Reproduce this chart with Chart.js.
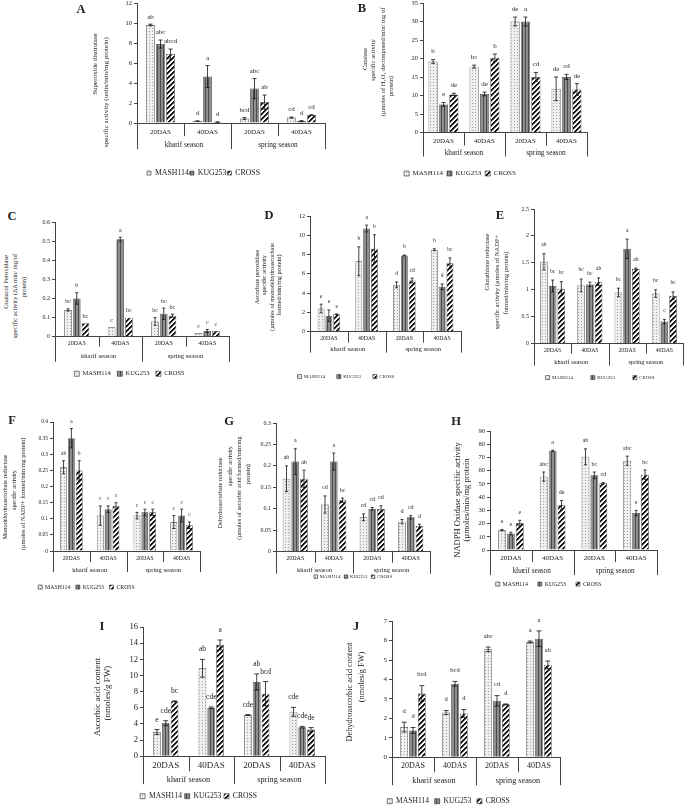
<!DOCTYPE html>
<html>
<head>
<meta charset="utf-8">
<script src="https://cdn.jsdelivr.net/npm/chart.js@4.4.1/dist/chart.umd.min.js"></script>
<style>
  body { margin: 0; background: #fff; }
  #fig { position: relative; width: 685px; height: 805px; overflow: hidden;
         font-family: "Liberation Serif", "Times New Roman", serif; color: #222; }
  #fig canvas { position: absolute; }
  .letter { position: absolute; font-weight: bold; font-size: 12.5px; transform: translate(-50%, -50%); }
  .yt { position: absolute; white-space: nowrap; line-height: 1;
        transform: translate(-50%, -50%) rotate(-90deg); }
</style>
</head>
<body>
<div id="fig"></div>
<script>
const days = ['20DAS', '40DAS', '20DAS', '40DAS'];
const seasons = ['kharif season', 'spring season'];
const genotypes = ['MASH114', 'KUG253', 'CROSS'];

// A - superoxide dismutase
const sodMash = [9.8, 0.2, 0.45, 0.55];
const sodKug = [7.9, 4.65, 3.45, 0.2];
const sodCross = [6.9, 0.1, 2.1, 0.8];
const sodErr = [[0.08, 0.02, 0.1, 0.05], [0.4, 1.1, 1.0, 0.05], [0.5, 0.02, 0.7, 0.03]];
const sodSig = [['ab', 'd', 'bcd', 'cd'], ['abc', 'a', 'abc', 'd'], ['abcd', 'd', 'ab', 'cd']];

// B - catalase
const catMash = [19.2, 17.8, 30.0, 11.8];
const catKug = [7.6, 10.4, 30.0, 15.0];
const catCross = [10.3, 20.2, 15.0, 11.6];
const catErr = [[0.5, 0.4, 1.2, 3.2], [0.5, 0.5, 1.2, 0.7], [0.3, 1.0, 1.2, 1.6]];
const catSig = [['b', 'bc', 'de', 'de'], ['e', 'de', 'a', 'cd'], ['de', 'b', 'cd', 'de']];

// C - guaiacol peroxidase
const gpxMash = [0.14, 0.05, 0.08, 0.02];
const gpxKug = [0.20, 0.51, 0.12, 0.03];
const gpxCross = [0.07, 0.10, 0.11, 0.03];
const gpxErr = [[0.006, 0, 0.02, 0], [0.03, 0.01, 0.03, 0.008], [0, 0, 0.008, 0]];
const gpxSig = [['bc', 'c', 'bc', 'c'], ['b', 'a', 'bc', 'c'], ['bc', 'bc', 'bc', 'c']];

// D - ascorbate peroxidase
const apxMash = [2.4, 7.3, 4.85, 8.5];
const apxKug = [1.65, 10.7, 7.9, 4.65];
const apxCross = [1.8, 8.6, 5.3, 7.1];
const apxErr = [[0.45, 1.5, 0.3, 0.1], [0.6, 0.35, 0.05, 0.3], [0.02, 1.45, 0.25, 0.55]];
const apxSig = [['e', 'b', 'd', 'b'], ['e', 'a', 'b', 'd'], ['e', 'b', 'cd', 'bc']];

// E - glutathione reductase
const grMash = [1.52, 1.08, 0.95, 0.93];
const grKug = [1.07, 1.10, 1.76, 0.41];
const grCross = [1.02, 1.15, 1.39, 0.89];
const grErr = [[0.15, 0.12, 0.08, 0.07], [0.11, 0.04, 0.18, 0.04], [0.13, 0.07, 0.01, 0.07]];
const grSig = [['ab', 'bc', 'bc', 'bc'], ['bc', 'bc', 'a', 'c'], ['bc', 'ab', 'ab', 'bc']];

// F - monodehydroascorbate reductase
const mdharMash = [0.26, 0.11, 0.11, 0.09];
const mdharKug = [0.35, 0.13, 0.12, 0.11];
const mdharCross = [0.25, 0.14, 0.12, 0.08];
const mdharErr = [[0.02, 0.03, 0.01, 0.02], [0.03, 0.01, 0.01, 0.02], [0.03, 0.01, 0.01, 0.01]];
const mdharSig = [['ab', 'c', 'c', 'c'], ['a', 'c', 'c', 'c'], ['b', 'c', 'c', 'c']];

// G - dehydroascorbate reductase
const dharMash = [0.17, 0.11, 0.08, 0.07];
const dharKug = [0.21, 0.21, 0.10, 0.08];
const dharCross = [0.17, 0.12, 0.10, 0.06];
const dharErr = [[0.03, 0.02, 0.008, 0.005], [0.03, 0.02, 0.003, 0.004], [0.02, 0.005, 0.007, 0.004]];
const dharSig = [['ab', 'cd', 'cd', 'd'], ['a', 'a', 'cd', 'cd'], ['ab', 'bc', 'cd', 'd']];

// H - NADPH oxidase
const noxMash = [15, 55.5, 70.5, 67.5];
const noxKug = [12.5, 75, 56.5, 28];
const noxCross = [20.5, 34, 50.5, 57];
const noxErr = [[0.5, 3.5, 6, 3.5], [1, 0.5, 2.5, 2], [2, 3.5, 0.5, 3.5]];
const noxSig = [['e', 'abc', 'ab', 'abc'], ['e', 'a', 'bc', 'e'], ['e', 'de', 'cd', 'bc']];

// I - ascorbic acid
const asaMash = [3.0, 10.9, 5.1, 5.5];
const asaKug = [4.1, 6.0, 9.2, 3.6];
const asaCross = [6.8, 13.8, 7.75, 3.3];
const asaErr = [[0.3, 1.1, 0.05, 0.55], [0.3, 0.1, 1.0, 0.1], [0.05, 0.6, 1.5, 0.25]];
const asaSig = [['e', 'ab', 'cde', 'cde'], ['cde', 'cde', 'ab', 'cde'], ['bc', 'a', 'bcd', 'de']];

// J - dehydroascorbic acid
const dhaMash = [1.55, 2.3, 5.55, 5.93];
const dhaKug = [1.38, 3.78, 2.9, 6.1];
const dhaCross = [3.28, 2.25, 2.72, 4.75];
const dhaErr = [[0.25, 0.1, 0.12, 0.05], [0.15, 0.12, 0.27, 0.4], [0.4, 0.2, 0.02, 0.2]];
const dhaSig = [['d', 'd', 'abc', 'a'], ['d', 'bcd', 'cd', 'a'], ['bcd', 'd', 'd', 'ab']];

const SERIF = '"Liberation Serif", "Times New Roman", serif';

const panels = [
  {id: 'A', vals: [sodMash, sodKug, sodCross], err: sodErr, sig: sodSig, max: 12, step: 2,
   box: [137, 3, 325, 124], legY: 174, legX: 203.5, cat: 0.64, tickY: 9, seasonY: 22, l1: 13, l2: 26,
   fTick: 7, fSeason: 7.3, fY: 6.5, fSig: 7, sigOff: 7.5, fLeg: 7.8, bw: 4, lp: 1, cap: 2,
   letter: [81, 9], fTitle: 7,
   title: [['Superoxide dismutase', 95, 64], ['specific activity (units/min/mg protein)', 106, 92]]},
  {id: 'B', vals: [catMash, catKug, catCross], err: catErr, sig: catSig, max: 35, step: 5,
   box: [423, 3, 587, 133], legY: 174, legX: 460, cat: 0.76, tickY: 9, seasonY: 21, l1: 13, l2: 24,
   fTick: 7, fSeason: 7.3, fY: 6.5, fSig: 7, sigOff: 8, fLeg: 7, bw: 5, lp: 4, cap: 2,
   letter: [362, 8], fTitle: 6.5,
   title: [['Catalase', 365, 59], ['specific activity', 373, 60],
           ['(µmoles of H₂O₂ decomposed/min/ mg of', 383, 62], ['protein)', 391, 86]]},
  {id: 'C', vals: [gpxMash, gpxKug, gpxCross], err: gpxErr, sig: gpxSig, max: 0.6, step: 0.1,
   box: [55, 222, 229, 337], legY: 374, legX: 129.5, cat: 0.6, tickY: 7, seasonY: 20, l1: 10, l2: 25,
   fTick: 6, fSeason: 6.6, fY: 6, fSig: 6, sigOff: 7, fLeg: 6.5, bw: 5, lp: 6.5, cap: 1.5,
   letter: [12, 216], fTitle: 6.5,
   title: [['Guaiacol Peroxidase', 6, 282], ['specific activity (ΔA min/ mg/of', 15, 296], ['protein)', 24, 287]]},
  {id: 'D', vals: [apxMash, apxKug, apxCross], err: apxErr, sig: apxSig, max: 12, step: 2,
   box: [310, 216, 461, 332], legY: 377, legX: 346, cat: 0.62, tickY: 7, seasonY: 18, l1: 11, l2: 21,
   fTick: 5.8, fSeason: 6.6, fY: 6, fSig: 5.5, sigOff: 8, fLeg: 4.8, bw: 4, lp: 12, cap: 1.5,
   letter: [269, 215], fTitle: 6.3,
   title: [['Ascorbate peroxidase', 257, 277], ['specific activity', 264, 275],
           ['(µmoles of monodehydroascorbate', 272, 287], ['formed/min/mg protein)', 279, 285]]},
  {id: 'E', vals: [grMash, grKug, grCross], err: grErr, sig: grSig, max: 2.5, step: 0.5,
   box: [534, 209, 683, 344], legY: 378, legX: 600, cat: 0.7, tickY: 7, seasonY: 19, l1: 10, l2: 22,
   fTick: 5.8, fSeason: 6.4, fY: 6, fSig: 5.5, sigOff: 9, fLeg: 4.8, bw: 4, lp: 18, cap: 1.5,
   letter: [500, 215], fTitle: 6.5,
   title: [['Glutathione reductase', 487, 262], ['specific activity (µmoles of NADP+', 497, 282],
           ['formed/min/mg protein)', 506, 283]]},
  {id: 'F', vals: [mdharMash, mdharKug, mdharCross], err: mdharErr, sig: mdharSig, max: 0.4, step: 0.05,
   box: [53, 422, 200, 552], legY: 588, legX: 86.5, cat: 0.64, tickY: 7, seasonY: 19, l1: 11, l2: 21,
   fTick: 5.8, fSeason: 6.6, fY: 5.5, fSig: 5.5, sigOff: 7, fLeg: 5.8, bw: 4, lp: 5.5, cap: 1.5,
   letter: [12, 420], fTitle: 6.3,
   title: [['Monodehydroascorbate reductase', 5, 497], ['specific activity', 14, 490],
           ['(µmoles of NADP+ formed/min/mg protein)', 23, 494]]},
  {id: 'G', vals: [dharMash, dharKug, dharCross], err: dharErr, sig: dharSig, max: 0.3, step: 0.05,
   box: [276, 423, 430, 552], legY: 577, legX: null, cat: 0.68, tickY: 7, seasonY: 19, l1: 11, l2: 22,
   fTick: 6, fSeason: 6.6, fY: 6, fSig: 6, sigOff: 8, fLeg: 4.7, bw: 3.5, lp: 4, cap: 1.5,
   letter: [229, 421], fTitle: 6.3,
   title: [['Dehydroascorbate reductase', 220, 493], ['specific activity', 230, 466],
           ['(µmoles of ascorbic acid formed/min/mg', 239, 488], ['protein)', 248, 474]]},
  {id: 'H', vals: [noxMash, noxKug, noxCross], err: noxErr, sig: noxSig, max: 90, step: 10,
   box: [490, 431, 657, 551], legY: 585, legX: 548.5, cat: 0.64, tickY: 8, seasonY: 21, l1: 12, l2: 25,
   fTick: 7, fSeason: 7.2, fY: 6.5, fSig: 6, sigOff: 8, fLeg: 5.8, bw: 4, lp: 10, cap: 1.5,
   letter: [456, 421], fTitle: 8.5,
   title: [['NADPH Oxidase specific activity', 457, 500], ['(µmoles/min/mg protein', 466, 500]]},
  {id: 'I', vals: [asaMash, asaKug, asaCross], err: asaErr, sig: asaSig, max: 16, step: 2,
   box: [143, 626, 325, 757], legY: 797, legX: 198.5, cat: 0.58, tickY: 9, seasonY: 24, l1: 15, l2: 28,
   fTick: 9, fSeason: 8.2, fY: 8.5, fSig: 7.5, sigOff: 10, fLeg: 7.6, bw: 5, lp: 2.7, cap: 2.5,
   letter: [102, 626], fTitle: 9,
   title: [['Ascorbic acid content', 97, 697], ['(nmoles/g FW)', 107, 693]]},
  {id: 'J', vals: [dhaMash, dhaKug, dhaCross], err: dhaErr, sig: dhaSig, max: 7, step: 1,
   box: [392, 621, 560, 758], legY: 802, legX: 448.5, cat: 0.63, tickY: 9, seasonY: 24, l1: 15, l2: 28,
   fTick: 8, fSeason: 8.2, fY: 7, fSig: 6.5, sigOff: 11, fLeg: 7.6, bw: 5, lp: 5.6, cap: 2.5,
   letter: [356, 626], fTitle: 8.3,
   title: [['Dehydroascorbic acid content', 350, 692], ['(nmoles/g FW)', 362, 677]]}
];

function makePattern(kind) {
  const c = document.createElement('canvas');
  const g = c.getContext('2d');
  if (kind === 'dots') {
    c.width = 3; c.height = 3;
    g.fillStyle = '#efefef'; g.fillRect(0, 0, 3, 3);
    g.fillStyle = '#a0a0a0'; g.fillRect(1, 1, 1, 1);
  } else if (kind === 'stripes') {
    c.width = 3; c.height = 1;
    g.fillStyle = '#8e8e8e'; g.fillRect(0, 0, 3, 1);
    g.fillStyle = '#4c4c4c'; g.fillRect(0, 0, 1, 1);
  } else {
    c.width = 5; c.height = 5;
    for (let x = 0; x < 5; x++) {
      for (let y = 0; y < 5; y++) {
        const k = (x + y) % 5;
        g.fillStyle = k < 2 ? '#111' : (k === 2 ? '#888' : '#fff');
        g.fillRect(x, y, 1, 1);
      }
    }
  }
  return g.createPattern(c, 'repeat');
}
const fills = [makePattern('dots'), makePattern('stripes'), makePattern('diag')];

// error bars, significance letters and the two level category axis
const overlay = {
  id: 'overlay',
  afterDatasetsDraw(chart, args, o) {
    const {ctx, chartArea: a, scales: {y}} = chart;
    ctx.save();
    ctx.fillStyle = '#222';
    ctx.textAlign = 'center';
    ctx.textBaseline = 'middle';
    ctx.font = o.fSig + 'px ' + SERIF;
    chart.data.datasets.forEach((ds, i) => {
      chart.getDatasetMeta(i).data.forEach((bar, j) => {
        const v = ds.data[j], e = ds.err[j];
        const hi = y.getPixelForValue(v + e);
        const lo = y.getPixelForValue(Math.max(v - e, 0));
        if (e > 0) {
          ctx.strokeStyle = '#111';
          ctx.lineWidth = 0.8;
          ctx.beginPath();
          ctx.moveTo(bar.x, lo); ctx.lineTo(bar.x, hi);
          ctx.moveTo(bar.x - o.cap, hi); ctx.lineTo(bar.x + o.cap, hi);
          ctx.moveTo(bar.x - o.cap, lo); ctx.lineTo(bar.x + o.cap, lo);
          ctx.stroke();
        }
        ctx.fillText(ds.sig[j], bar.x, hi - o.sigOff);
      });
    });
    const w = (a.right - a.left) / days.length;
    ctx.strokeStyle = '#444';
    ctx.lineWidth = 1;
    ctx.beginPath();
    for (let k = 0; k <= days.length; k++) {
      const x = Math.round(a.left + k * w) + 0.5;
      ctx.moveTo(x, a.bottom);
      ctx.lineTo(x, a.bottom + (k % 2 ? o.l1 : o.l2));
    }
    ctx.stroke();
    ctx.font = o.fSeason + 'px ' + SERIF;
    seasons.forEach((s, k) => ctx.fillText(s, a.left + (2 * k + 1) * w, a.bottom + o.seasonY));
    ctx.restore();
  }
};

const fig = document.getElementById('fig');

panels.forEach(p => {
  const [L, T, R, B] = p.box;
  const full = p.legX !== null;
  const yw = full ? L + R - 2 * p.legX : 22;
  const pt = 6, pr = 4;
  const ih = Math.max(p.fLeg, p.bw);
  const xh = p.legY - B - p.lp - ih / 2;
  const legH = ih + p.lp + 10;
  const cl = L - yw, ct = T - pt;
  const cv = document.createElement('canvas');
  cv.width = R + pr - cl;
  cv.height = pt + (B - T) + xh + legH;
  cv.style.left = cl + 'px';
  cv.style.top = ct + 'px';
  fig.appendChild(cv);

  const lt = document.createElement('div');
  lt.className = 'letter';
  lt.textContent = p.id;
  lt.style.left = p.letter[0] + 'px';
  lt.style.top = p.letter[1] + 'px';
  fig.appendChild(lt);

  p.title.forEach(([text, x, y]) => {
    const d = document.createElement('div');
    d.className = 'yt';
    d.textContent = text;
    d.style.left = x + 'px';
    d.style.top = y + 'px';
    d.style.fontSize = p.fTitle + 'px';
    fig.appendChild(d);
  });

  new Chart(cv, {
    type: 'bar',
    data: {
      labels: days,
      datasets: genotypes.map((g, i) => ({
        label: g,
        data: p.vals[i],
        err: p.err[i],
        sig: p.sig[i],
        backgroundColor: fills[i],
        borderColor: '#444',
        borderWidth: 0.7,
        categoryPercentage: p.cat,
        barPercentage: 0.88
      }))
    },
    options: {
      responsive: false,
      animation: false,
      devicePixelRatio: 1,
      layout: {padding: {left: 0, right: pr, top: pt, bottom: 0}},
      scales: {
        x: {
          grid: {display: false, drawTicks: false},
          border: {display: true, color: '#444', width: 1},
          ticks: {color: '#222', font: {family: SERIF, size: p.fTick},
                  padding: p.tickY - 0.6 * p.fTick, maxRotation: 0, autoSkip: false},
          afterFit: s => { s.height = xh; }
        },
        y: {
          min: 0, max: p.max,
          grid: {drawOnChartArea: false, tickLength: 3, color: '#444'},
          border: {display: true, color: '#444', width: 1},
          ticks: {stepSize: p.step, padding: 2, color: '#222', font: {family: SERIF, size: p.fY},
                  callback: v => String(Math.round(v * 1000) / 1000)},
          afterFit: s => { s.width = yw; }
        }
      },
      plugins: {
        legend: {
          position: 'bottom', fullSize: full,
          labels: {boxWidth: p.bw, boxHeight: p.bw, padding: p.lp, color: '#222',
                   font: {family: SERIF, size: p.fLeg}}
        },
        tooltip: {enabled: false},
        overlay: {fSig: p.fSig, sigOff: p.sigOff, cap: p.cap, l1: p.l1, l2: p.l2,
                  fSeason: p.fSeason, seasonY: p.seasonY}
      }
    },
    plugins: [overlay]
  });
});
</script>
</body>
</html>
